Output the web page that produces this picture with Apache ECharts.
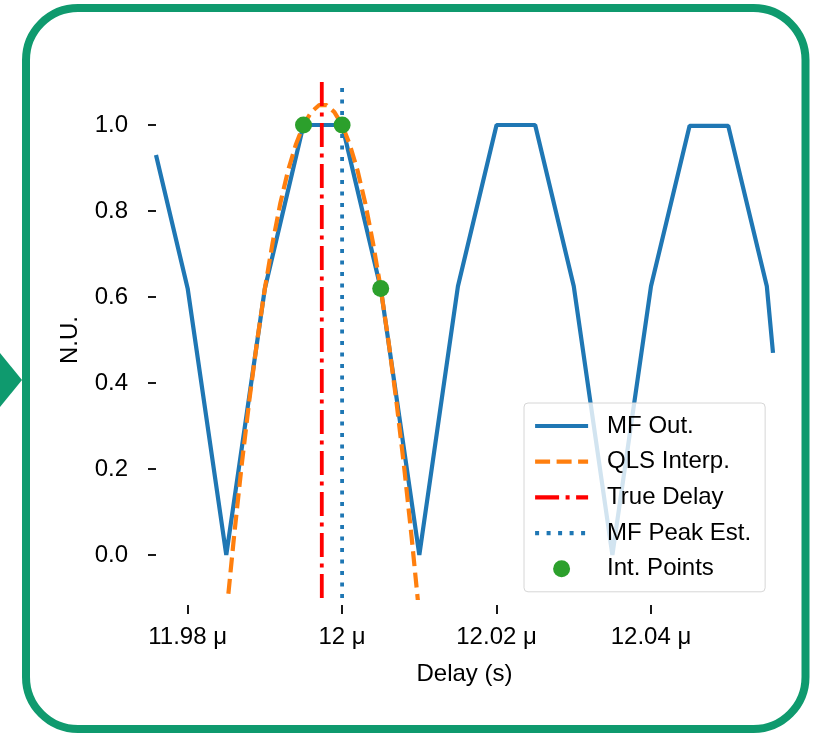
<!DOCTYPE html>
<html>
<head>
<meta charset="utf-8">
<script src="https://cdn.jsdelivr.net/npm/echarts@6/dist/echarts.min.js"></script>
<style>
html,body{margin:0;padding:0;background:#fff;}
#c{width:813px;height:735px;}
</style>
</head>
<body>
<div id="c"></div>
<script>
// ---- data (delay in microseconds, value normalised) ----
const mfDelay = [11.9759, 11.98, 11.985, 11.99, 11.995, 12.0, 12.005, 12.01, 12.015, 12.02, 12.025, 12.03, 12.035, 12.04, 12.045, 12.05, 12.055, 12.0558];
const mfValue = [0.93, 0.62, 0.0, 0.62, 1.0, 1.0, 0.62, 0.0, 0.625, 1.0, 1.0, 0.625, 0.0, 0.625, 0.998, 0.998, 0.625, 0.47];

const qlsDelay = [11.985, 11.986, 11.987, 11.988, 11.989, 11.99, 11.991, 11.992, 11.993, 11.994, 11.995, 11.996, 11.997, 11.998, 11.999, 12.0, 12.001, 12.002, 12.003, 12.004, 12.005, 12.006, 12.007, 12.008, 12.009, 12.010];
const qlsValue = [-0.14, 0.042, 0.21, 0.362, 0.498, 0.62, 0.726, 0.818, 0.894, 0.954, 1.0, 1.030, 1.046, 1.046, 1.030, 1.0, 0.954, 0.894, 0.818, 0.726, 0.62, 0.498, 0.362, 0.21, 0.042, -0.14];

const trueDelay = 11.99737;
const mfPeakEst = 12.0;

const intDelay = [11.995, 12.0, 12.005];
const intValue = [1.0, 1.0, 0.62];

const xTicks = [11.98, 12.0, 12.02, 12.04];
const yTicks = [0.0, 0.2, 0.4, 0.6, 0.8, 1.0];
const xRange = [11.9759, 12.0558];
const yRange = [-0.1, 1.1];

const seriesNames = ['MF Out.', 'QLS Interp.', 'True Delay', 'MF Peak Est.', 'Int. Points'];

// ---- build ----
const zip = (a, b) => a.map((v, i) => [v, b[i]]);
const FONT = '"Liberation Sans", Arial, Helvetica, sans-serif';
const FS = 24;
const LW = 4.2;
const chart = echarts.init(document.getElementById('c'), null, {renderer: 'canvas'});

const hiddenSymbol = {opacity: 0};

chart.setOption({
  animation: false,
  backgroundColor: '#ffffff',
  textStyle: {fontFamily: FONT},
  graphic: [
    {type: 'rect', z: 0, shape: {x: 26, y: 8, width: 779.5, height: 721, r: 52},
     style: {fill: 'none', stroke: '#0f9a6e', lineWidth: 8}},
    {type: 'polygon', z: 0, shape: {points: [[0, 353], [22, 380], [0, 407]]},
     style: {fill: '#0f9a6e'}}
  ],
  grid: {left: 156, top: 82, width: 617, height: 516, containLabel: false},
  xAxis: {
    type: 'value', min: xRange[0], max: xRange[1], offset: 7,
    name: 'Delay (s)', nameLocation: 'middle', nameGap: 57,
    nameTextStyle: {fontSize: FS, color: '#000', fontFamily: FONT},
    axisLine: {show: false, onZero: false},
    splitLine: {show: false},
    axisTick: {show: true, length: 9, customValues: xTicks, lineStyle: {color: '#000', width: 1.8}},
    axisLabel: {customValues: xTicks, fontSize: FS, color: '#000', margin: 20, fontFamily: FONT,
      formatter: v => (Math.round(v * 100) / 100) + ' μ'}
  },
  yAxis: {
    type: 'value', min: yRange[0], max: yRange[1],
    name: 'N.U.', nameLocation: 'middle', nameGap: 74, nameRotate: 90,
    nameTextStyle: {fontSize: FS, color: '#000', fontFamily: FONT},
    axisLine: {show: false, onZero: false},
    splitLine: {show: false},
    axisTick: {show: true, length: 8, customValues: yTicks, lineStyle: {color: '#000', width: 1.8}},
    axisLabel: {customValues: yTicks, fontSize: FS, color: '#000', margin: 28, fontFamily: FONT,
      formatter: v => v.toFixed(1)}
  },
  legend: {
    orient: 'vertical', left: 524, top: 403,
    data: [
      {name: seriesNames[0], itemStyle: hiddenSymbol},
      {name: seriesNames[1], itemStyle: hiddenSymbol},
      {name: seriesNames[2], itemStyle: hiddenSymbol},
      {name: seriesNames[3], itemStyle: hiddenSymbol},
      {name: seriesNames[4]}
    ],
    itemWidth: 53, itemHeight: 17, itemGap: 11.7,
    padding: [11, 14, 11, 9],
    backgroundColor: 'rgba(255,255,255,0.8)',
    borderColor: '#d6d6d6', borderWidth: 1, borderRadius: 4,
    lineStyle: {width: LW},
    textStyle: {fontSize: FS, color: '#000', lineHeight: 24, fontFamily: FONT, padding: [0, 0, 0, 14]}
  },
  series: [
    {name: seriesNames[0], type: 'line', data: zip(mfDelay, mfValue), symbol: 'none', z: 2,
     lineStyle: {color: '#1f77b4', width: LW}, itemStyle: {color: '#1f77b4'}},
    {name: seriesNames[1], type: 'line', data: zip(qlsDelay, qlsValue), symbol: 'none', z: 3,
     lineStyle: {color: '#ff7f0e', width: LW, type: [15, 6.5]}, itemStyle: {color: '#ff7f0e'}},
    {name: seriesNames[2], type: 'line', data: [[trueDelay, yRange[0]], [trueDelay, yRange[1]]], symbol: 'none', z: 4,
     lineStyle: {color: '#ff0000', width: 3.8, type: [24, 6.5, 4, 6.5]}, itemStyle: {color: '#ff0000'}},
    {name: seriesNames[3], type: 'line', data: [[mfPeakEst, yRange[0]], [mfPeakEst, yRange[1]]], symbol: 'none', z: 4,
     lineStyle: {color: '#1f77b4', width: 3.8, type: [4, 7.5]}, itemStyle: {color: '#1f77b4'}},
    {name: seriesNames[4], type: 'scatter', data: zip(intDelay, intValue), symbol: 'circle', symbolSize: 17, z: 5,
     itemStyle: {color: '#2ca02c', opacity: 1}}
  ]
});
</script>
</body>
</html>
